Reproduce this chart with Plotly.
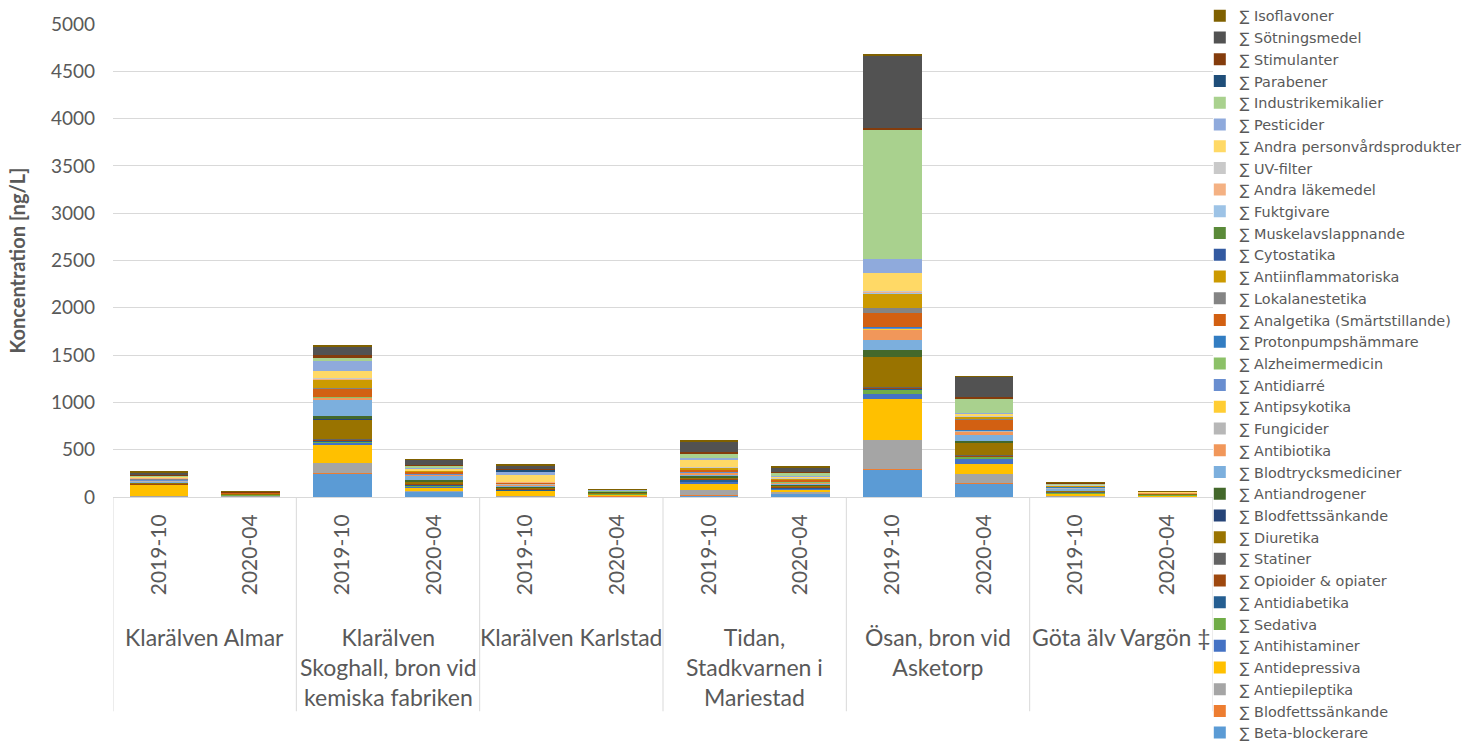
import plotly.graph_objects as go

# ---- categories ----
sites = ["Klarälven Almar",
         "Klarälven<br>Skoghall, bron vid<br>kemiska fabriken",
         "Klarälven Karlstad",
         "Tidan,<br>Stadkvarnen i<br>Mariestad",
         "Ösan, bron vid<br>Asketorp",
         "Göta älv Vargön ‡"]
dates = ["2019-10", "2020-04"]

# ---- series values (12 bars: site x date) ----
beta_blockerare        = [5, 3, 252, 55, 3, 3, 17, 35, 291, 140, 3, 2]
blodfettssankande_a    = [3, 7, 5, 3, 3, 12, 3, 3, 8, 5, 5, 5]
antiepileptika         = [5, 3, 98, 8, 3, 3, 50, 20, 305, 98, 3, 2]
antidepressiva         = [115, 3, 200, 25, 55, 5, 75, 22, 430, 110, 25, 4]
antihistaminer         = [3, 1, 25, 25, 5, 2, 15, 8, 53, 50, 3, 1]
sedativa               = [2, 5, 8, 5, 3, 8, 8, 5, 53, 22, 5, 8]
antidiabetika          = [3, 1, 5, 10, 10, 2, 15, 8, 5, 5, 3, 1]
opioider               = [2, 3, 15, 12, 5, 5, 12, 6, 10, 12, 5, 3]
statiner               = [1, 1, 3, 3, 3, 2, 3, 3, 3, 3, 2, 1]
diuretika              = [10, 5, 210, 20, 12, 8, 10, 12, 322, 128, 15, 10]
blodfettssankande_b    = [1, 0, 3, 2, 2, 1, 2, 2, 3, 3, 1, 1]
antiandrogener         = [2, 2, 35, 12, 8, 3, 8, 6, 70, 20, 3, 3]
blodtrycksmediciner    = [8, 2, 175, 50, 5, 3, 25, 15, 110, 60, 12, 1]
antibiotika            = [8, 3, 15, 8, 18, 4, 15, 8, 105, 40, 8, 2]
fungicider             = [8, 1, 3, 3, 3, 1, 3, 2, 5, 3, 6, 1]
antipsykotika          = [3, 1, 3, 2, 3, 1, 3, 2, 10, 5, 3, 1]
antidiarre             = [1, 0, 2, 1, 1, 0, 1, 1, 8, 2, 1, 0]
alzheimermedicin       = [1, 1, 2, 1, 1, 1, 2, 1, 3, 2, 2, 2]
protonpumpshammare     = [2, 0, 3, 2, 1, 0, 2, 1, 5, 3, 1, 0]
analgetika             = [5, 3, 87, 20, 5, 4, 22, 28, 145, 105, 5, 1]
lokalanestetika        = [3, 1, 5, 3, 2, 1, 3, 2, 55, 5, 2, 1]
antiinflammatoriska    = [3, 1, 85, 5, 3, 1, 15, 5, 150, 25, 4, 1]
cytostatika            = [0, 0, 1, 0, 0, 0, 0, 0, 2, 1, 0, 0]
muskelavslappnande     = [1, 0, 3, 2, 1, 1, 1, 1, 3, 2, 1, 1]
fuktgivare             = [5, 0, 3, 2, 2, 0, 2, 1, 3, 2, 3, 0]
andra_lakemedel        = [2, 1, 5, 3, 3, 1, 3, 2, 15, 5, 3, 0]
uv_filter              = [5, 0, 5, 2, 3, 0, 3, 2, 5, 3, 5, 0]
andra_personvard       = [5, 1, 80, 12, 65, 1, 78, 18, 190, 22, 5, 1]
pesticider             = [8, 1, 105, 10, 40, 1, 12, 5, 145, 5, 2, 0]
industrikemikalier     = [8, 2, 35, 30, 5, 2, 50, 30, 1370, 150, 5, 1]
parabener              = [2, 0, 3, 2, 20, 0, 3, 2, 3, 2, 1, 0]
stimulanter            = [3, 2, 20, 5, 3, 3, 15, 5, 20, 18, 8, 3]
sotningsmedel          = [25, 2, 90, 50, 35, 2, 110, 50, 765, 215, 1, 1]
isoflavoner            = [8, 1, 10, 5, 8, 2, 15, 8, 5, 8, 6, 1]

series = [
    ("∑ Beta-blockerare", beta_blockerare, "#5B9BD5"),
    ("∑ Blodfettssänkande", blodfettssankande_a, "#ED7D31"),
    ("∑ Antiepileptika", antiepileptika, "#A5A5A5"),
    ("∑ Antidepressiva", antidepressiva, "#FFC000"),
    ("∑ Antihistaminer", antihistaminer, "#4472C4"),
    ("∑ Sedativa", sedativa, "#70AD47"),
    ("∑ Antidiabetika", antidiabetika, "#255E91"),
    ("∑ Opioider & opiater", opioider, "#9E480E"),
    ("∑ Statiner", statiner, "#636363"),
    ("∑ Diuretika", diuretika, "#997300"),
    ("∑ Blodfettssänkande", blodfettssankande_b, "#264478"),
    ("∑ Antiandrogener", antiandrogener, "#43682B"),
    ("∑ Blodtrycksmediciner", blodtrycksmediciner, "#7CAFDD"),
    ("∑ Antibiotika", antibiotika, "#F1975A"),
    ("∑ Fungicider", fungicider, "#B7B7B7"),
    ("∑ Antipsykotika", antipsykotika, "#FFCD33"),
    ("∑ Antidiarré", antidiarre, "#698ED0"),
    ("∑ Alzheimermedicin", alzheimermedicin, "#8CC168"),
    ("∑ Protonpumpshämmare", protonpumpshammare, "#327DC2"),
    ("∑ Analgetika (Smärtstillande)", analgetika, "#D26012"),
    ("∑ Lokalanestetika", lokalanestetika, "#848484"),
    ("∑ Antiinflammatoriska", antiinflammatoriska, "#CC9A00"),
    ("∑ Cytostatika", cytostatika, "#335AA1"),
    ("∑ Muskelavslappnande", muskelavslappnande, "#5A8A39"),
    ("∑ Fuktgivare", fuktgivare, "#9DC3E6"),
    ("∑ Andra läkemedel", andra_lakemedel, "#F4B183"),
    ("∑ UV-filter", uv_filter, "#C9C9C9"),
    ("∑ Andra personvårdsprodukter", andra_personvard, "#FFD966"),
    ("∑ Pesticider", pesticider, "#8FAADC"),
    ("∑ Industrikemikalier", industrikemikalier, "#A9D18E"),
    ("∑ Parabener", parabener, "#1F4E79"),
    ("∑ Stimulanter", stimulanter, "#843C0C"),
    ("∑ Sötningsmedel", sotningsmedel, "#525252"),
    ("∑ Isoflavoner", isoflavoner, "#7F6000"),
]

n_bars = len(sites) * len(dates)
xpos = list(range(n_bars))
tick_text = [d for _ in sites for d in dates]

FONT = "Lato"
TXT = "#595959"
GRID = "#D9D9D9"

fig = go.Figure()
for name, vals, col in series:
    fig.add_trace(go.Bar(x=xpos, y=vals, name=name,
                         marker=dict(color=col, line=dict(width=0))))

# group labels and dividers
for i, s in enumerate(sites):
    fig.add_annotation(x=2 * i + 0.5, xref="x", y=-0.262, yref="paper",
                       text=s, showarrow=False, yanchor="top",
                       font=dict(family=FONT, size=23, color=TXT))
for k in range(len(sites) + 1):
    fig.add_shape(type="line", xref="x", yref="paper",
                  x0=2 * k - 0.5, x1=2 * k - 0.5, y0=0, y1=-0.453,
                  line=dict(color=GRID, width=1))

fig.update_layout(
    width=1479, height=742,
    barmode="stack", bargap=0.36,
    plot_bgcolor="white", paper_bgcolor="white",
    margin=dict(l=113, r=266, t=20, b=245),
    font=dict(family=FONT, color=TXT),
    legend=dict(traceorder="reversed", x=0.988, xanchor="left",
                y=0.257, yanchor="middle", maxheight=800,
                font=dict(family="DejaVu Sans", size=14.4, color=TXT),
                tracegroupgap=0, bgcolor="rgba(0,0,0,0)"),
    xaxis=dict(range=[-0.5, n_bars - 0.5], tickvals=xpos, ticktext=tick_text,
               tickangle=-90, tickfont=dict(family=FONT, size=21, color=TXT),
               showgrid=False, showline=True, linecolor=GRID, linewidth=1,
               ticks="", zeroline=False, ticklabelstandoff=8),
    yaxis=dict(range=[0, 5000], dtick=500, showgrid=True, gridcolor=GRID,
               gridwidth=1, zeroline=False, showline=False,
               tickfont=dict(family=FONT, size=19, color=TXT),
               ticklabelstandoff=17,
               title=dict(text="<b>Koncentration [ng/L]</b>",
                          font=dict(family=FONT, size=20, color=TXT),
                          standoff=19)),
)

fig.write_html(
    "out.html",
    config={"displayModeBar": False},
    post_script="document.body.style.margin='0';"
                "document.body.style.overflow='hidden';",
)
